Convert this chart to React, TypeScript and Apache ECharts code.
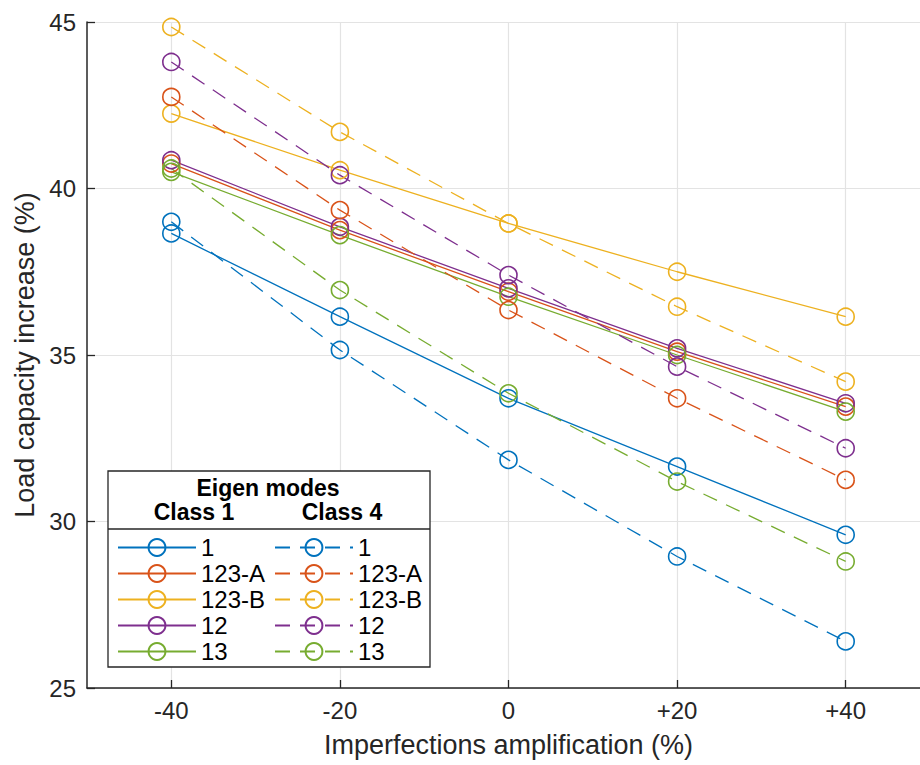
import React, { useEffect, useRef } from "react";
import * as echarts from "echarts";

// Imperfection amplification levels (%) and their axis labels
const amplification = [-40, -20, 0, 20, 40];
const amplificationLabels = ["-40", "-20", "0", "+20", "+40"];

// Eigen-mode combinations shown in the legend
const modes = ["1", "123-A", "123-B", "12", "13"];
const modeColors = ["#0072BD", "#D95319", "#EDB120", "#7E2F8E", "#77AC30"];

// Load capacity increase (%) — Class 1 imperfections
const class1Mode1 = [38.65, 36.15, 33.7, 31.65, 29.6];
const class1Mode123A = [40.75, 38.75, 36.9, 35.1, 33.45];
const class1Mode123B = [42.25, 40.55, 38.95, 37.5, 36.15];
const class1Mode12 = [40.85, 38.85, 37.0, 35.2, 33.55];
const class1Mode13 = [40.5, 38.6, 36.75, 35.0, 33.3];

// Load capacity increase (%) — Class 4 imperfections
const class4Mode1 = [39.0, 35.15, 31.85, 28.95, 26.4];
const class4Mode123A = [42.75, 39.35, 36.35, 33.7, 31.25];
const class4Mode123B = [44.85, 41.7, 38.95, 36.45, 34.2];
const class4Mode12 = [43.8, 40.4, 37.4, 34.65, 32.2];
const class4Mode13 = [40.6, 36.95, 33.85, 31.2, 28.8];

const yTicks = [25, 30, 35, 40, 45];

const class1 = [class1Mode1, class1Mode123A, class1Mode123B, class1Mode12, class1Mode13];
const class4 = [class4Mode1, class4Mode123A, class4Mode123B, class4Mode12, class4Mode13];

const TEXT = "#262626";
const FONT = "'Liberation Sans', Arial, Helvetica, sans-serif";

function makeSeries(prefix: string, values: number[][], dashed: boolean) {
  return values.map((vals, i) => ({
    name: `${prefix}${modes[i]}`,
    type: "line",
    data: vals.map((v, j) => [amplification[j], v]),
    symbol: "circle",
    symbolSize: 17,
    showSymbol: true,
    itemStyle: {
      color: "rgba(255,255,255,0)",
      borderColor: modeColors[i],
      borderWidth: 1.6,
    },
    lineStyle: {
      color: modeColors[i],
      width: 1.3,
      type: dashed ? [15, 10] : "solid",
    },
    emphasis: { disabled: true },
    z: 3,
  }));
}

export default function App() {
  const ref = useRef<HTMLDivElement>(null);

  useEffect(() => {
    if (!ref.current) return;
    const chart = echarts.init(ref.current, undefined, { renderer: "svg" });

    const legendBase = {
      orient: "vertical",
      top: 535.5,
      itemWidth: 78,
      itemHeight: 21,
      itemGap: 2,
      padding: 0,
      selectedMode: false,
      z: 20,
      formatter: (name: string) => name.slice(3),
      textStyle: { fontFamily: FONT, fontSize: 24, color: "#000", lineHeight: 21 },
    };

    const headingStyle = {
      font: `bold 23px ${FONT}`,
      fill: "#000",
      textAlign: "center",
      textVerticalAlign: "middle",
    };

    chart.setOption({
      animation: false,
      backgroundColor: "#fff",
      grid: {
        left: 87,
        top: 22,
        right: -10,
        bottom: 77,
        containLabel: false,
        outerBoundsMode: "none",
      },
      xAxis: {
        type: "value",
        min: -50,
        max: 50,
        name: "Imperfections amplification (%)",
        nameLocation: "middle",
        nameGap: 43,
        nameTextStyle: { fontFamily: FONT, fontSize: 27, color: TEXT },
        axisLine: { show: true, onZero: false, lineStyle: { color: TEXT, width: 1.5 } },
        axisTick: {
          show: true,
          inside: true,
          length: 8,
          customValues: amplification,
          lineStyle: { color: TEXT, width: 1.3 },
        },
        axisLabel: {
          customValues: amplification,
          margin: 10,
          fontFamily: FONT,
          fontSize: 24,
          color: TEXT,
          formatter: (v: number) => amplificationLabels[amplification.indexOf(v)] ?? "",
        },
        splitLine: { show: true, lineStyle: { color: "#e3e3e3", width: 1.2 } },
      },
      yAxis: {
        type: "value",
        min: yTicks[0],
        max: yTicks[yTicks.length - 1],
        interval: 5,
        name: "Load capacity increase (%)",
        nameLocation: "middle",
        nameGap: 47,
        nameTextStyle: { fontFamily: FONT, fontSize: 27, color: TEXT },
        axisLine: { show: true, onZero: false, lineStyle: { color: TEXT, width: 1.5 } },
        axisTick: { show: true, inside: true, length: 8, lineStyle: { color: TEXT, width: 1.3 } },
        axisLabel: { margin: 11, fontFamily: FONT, fontSize: 24, color: TEXT },
        splitLine: { show: true, lineStyle: { color: "#e3e3e3", width: 1.2 } },
      },
      legend: [
        { ...legendBase, left: 117, data: modes.map((m) => `C1 ${m}`) },
        { ...legendBase, left: 274, data: modes.map((m) => `C4 ${m}`) },
      ],
      graphic: [
        {
          type: "rect",
          z: 10,
          shape: { x: 108, y: 471, width: 322, height: 196 },
          style: { fill: "#fff", stroke: TEXT, lineWidth: 1.3 },
        },
        {
          type: "line",
          z: 11,
          shape: { x1: 108, y1: 529, x2: 430, y2: 529 },
          style: { stroke: TEXT, lineWidth: 1.3 },
        },
        { type: "text", z: 11, x: 268, y: 488, style: { ...headingStyle, text: "Eigen modes" } },
        { type: "text", z: 11, x: 194, y: 512, style: { ...headingStyle, text: "Class 1" } },
        { type: "text", z: 11, x: 342, y: 512, style: { ...headingStyle, text: "Class 4" } },
      ],
      series: [...makeSeries("C1 ", class1, false), ...makeSeries("C4 ", class4, true)],
    });

    return () => chart.dispose();
  }, []);

  return (
    <div
      ref={ref}
      style={{ position: "absolute", left: 0, top: 0, width: 920, height: 765 }}
    />
  );
}
